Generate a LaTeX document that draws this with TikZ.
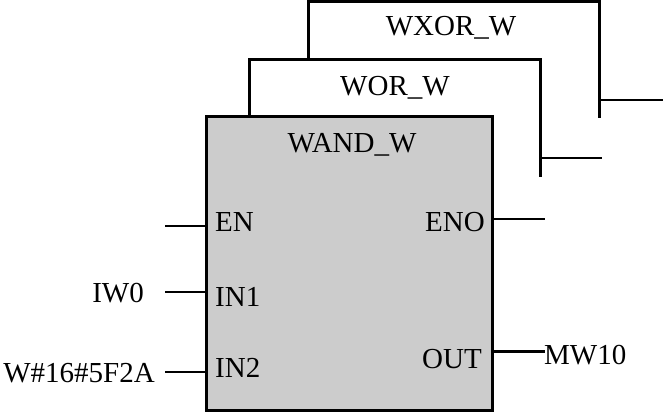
\documentclass[tikz,border=0pt]{standalone}
\usepackage{fontspec}
\setmainfont{Liberation Serif}
\usetikzlibrary{positioning}
\tikzset{
    block/.style = {rectangle,fill=gray!40,draw=black,line width=3pt,inner sep=0pt,
                    minimum width=286pt,minimum height=293pt},
    frame/.style = {draw=black,line width=3pt},
    txt/.style = {inner sep=0pt,text=black,font=\fontsize{29}{31}\selectfont},
    wire/.style = {line width=1.5pt},
    bus/.style = {line width=3pt}
}
\begin{document}
\begin{tikzpicture}[x=1pt,y=1pt]
    \useasboundingbox (0,0) rectangle (663,412);
    % stacked blocks behind
    \coordinate (xorA) at (308,352);
    \coordinate (xorB) at (599,294);
    \coordinate (xorO) at (663,312);
    \coordinate (orA)  at (249,295);
    \coordinate (orB)  at (540,235);
    \coordinate (orO)  at (602,254);
    \draw[frame] (xorA) |- (599,410) -- (xorB);
    \draw[wire]  (xorB |- xorO) -- (xorO);
    \node[txt] (xor) at (451,384) {WXOR\_W};
    \draw[frame] (orA) |- (540,352) -- (orB);
    \draw[wire]  (orB |- orO) -- (orO);
    \node[txt] (or) at (395,324) {WOR\_W};
    % main block
    \node[block] (and) at (349,148.5) {};
    \node[txt] (title) at (352,267) {WAND\_W};
    \node[txt,anchor=west] (en)  at (215,190) {EN};
    \node[txt,anchor=west] (in1) at (215,115) {IN1};
    \node[txt,anchor=west] (in2) at (215,44)  {IN2};
    \node[txt,anchor=east] (eno) at (485,190) {ENO};
    \node[txt,anchor=east] (out) at (482,53)  {OUT};
    % operands
    \node[txt,anchor=east] (iw)  at (144,119) {IW0};
    \node[txt,anchor=east] (cst) at (155,39)  {W\#16\#5F2A};
    \node[txt,anchor=west] (mw)  at (544,57)  {MW10};
    \coordinate (enL)  at (165,186);
    \coordinate (in1L) at (165,120);
    \coordinate (in2L) at (165,40);
    \coordinate (enoR) at (545,193);
    \coordinate (outR) at (545,61);
    \draw[wire] (enL) -- (enL -| and.west);
    \draw[wire] (in1L) -- (in1L -| and.west);
    \draw[wire] (in2L) -- (in2L -| and.west);
    \draw[wire] (enoR -| and.east) -- (enoR);
    \draw[bus]  (outR -| and.east) -- (outR);
\end{tikzpicture}
\end{document}
